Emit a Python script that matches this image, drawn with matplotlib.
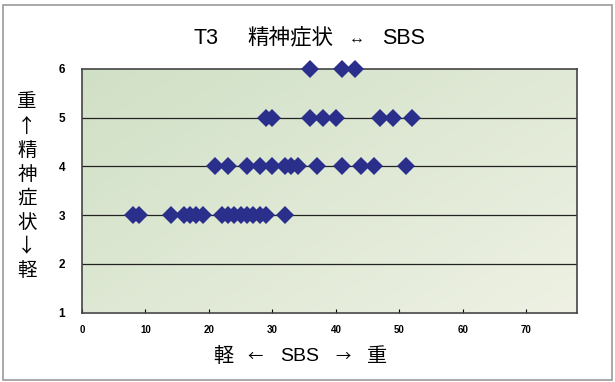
import numpy as np
import matplotlib
matplotlib.use('Agg')
import matplotlib.pyplot as plt
import matplotlib.patches as mpatches
from matplotlib.colors import LinearSegmentedColormap

plt.rcParams['font.family'] = ['Liberation Sans', 'Noto Sans CJK JP', 'DejaVu Sans']
CJK_FIRST = ['Noto Sans CJK JP', 'Liberation Sans', 'DejaVu Sans']

# ---------------------------------------------------------------------------
# data: SBS score per patient, grouped by psychiatric symptom level
# ---------------------------------------------------------------------------
sbs_level3 = [8, 9, 14, 16, 17, 18, 19, 22, 23, 24, 25, 26, 27, 28, 29, 32]
sbs_level4 = [21, 23, 26, 28, 30, 32, 33, 34, 37, 41, 44, 46, 51]
sbs_level5 = [29, 30, 36, 38, 40, 47, 49, 52]
sbs_level6 = [36, 41, 43]

levels = [3, 4, 5, 6]
sbs_by_level = [sbs_level3, sbs_level4, sbs_level5, sbs_level6]

x_ticks = [0, 10, 20, 30, 40, 50, 60, 70]
y_ticks = [1, 2, 3, 4, 5, 6]

# title / axis labels, split in pieces so the wide spacing can be kept
title_parts = ['T3', '精神症状', '↔', 'SBS']
x_label_parts = ['軽', '←', 'SBS', '→', '重']
y_label_chars = ['重', '↑', '精', '神', '症', '状', '↓', '軽']

W, H = 615, 382
fig = plt.figure(figsize=(W / 100, H / 100), dpi=100)
ax = fig.add_axes([82 / W, 1 - 312.5 / H, (577 - 82) / W, (312.5 - 69) / H])

# gradient background in the plot area (darker top-left)
bg = LinearSegmentedColormap.from_list('bg', ['#d0e0c6', '#eef1e3'])
gx, gy = np.meshgrid(np.linspace(0, 1, 200), np.linspace(0, 1, 200))
ax.imshow(0.55 * gx + 0.45 * gy, cmap=bg, extent=[0, 78, 1, 6],
          origin='upper', aspect='auto', zorder=0, interpolation='bilinear')

for y in [2, 3, 4, 5]:
    ax.axhline(y, color='#222222', linewidth=0.9, zorder=1)

for lvl, xs in zip(levels, sbs_by_level):
    ax.plot(xs, [lvl] * len(xs), linestyle='none', marker='D',
            markersize=9, color='#2b2f8c', markeredgewidth=0, zorder=3,
            clip_on=False)

ax.set_xlim(0, 78)
ax.set_ylim(1, 6)
ax.set_xticks(x_ticks)
ax.set_yticks(y_ticks)
ax.tick_params(axis='x', direction='in', length=3, width=0.8, pad=9,
               labelsize=7)
ax.tick_params(axis='y', length=0, pad=12, labelsize=8.5)
for lab in ax.get_xticklabels() + ax.get_yticklabels():
    lab.set_fontweight('bold')
for sp in ax.spines.values():
    sp.set_color('#444444')
    sp.set_linewidth(1.2)


def px_text(x, y, s, size, family=None):
    fig.text(x / W, 1 - y / H, s, ha='center', va='center', fontsize=size,
             family=family or plt.rcParams['font.family'])


# title
for xc, part, size, fam in zip([205.5, 290, 356.5, 403.5], title_parts,
                               [15.5, 15.5, 11.5, 15.5],
                               [None, CJK_FIRST, None, None]):
    px_text(xc, 38.5, part, size, fam)

# x label
for xc, part, size, fam in zip([223, 255, 300, 343.5, 377.5], x_label_parts,
                               [14.5, 11, 14, 11, 14.5],
                               [CJK_FIRST, CJK_FIRST, None, CJK_FIRST, CJK_FIRST]):
    px_text(xc, 356.5, part, size, fam)

# y label, stacked vertically
for i, ch in enumerate(y_label_chars):
    px_text(27, 102 + i * 24, ch, 14, CJK_FIRST)

# outer frame
fig.patches.append(mpatches.Rectangle((3 / W, 2 / H), 609 / W, 375 / H,
                                      transform=fig.transFigure, fill=False,
                                      edgecolor='#9a9a9a', linewidth=1.2))

fig.savefig('out.png', dpi=100)
